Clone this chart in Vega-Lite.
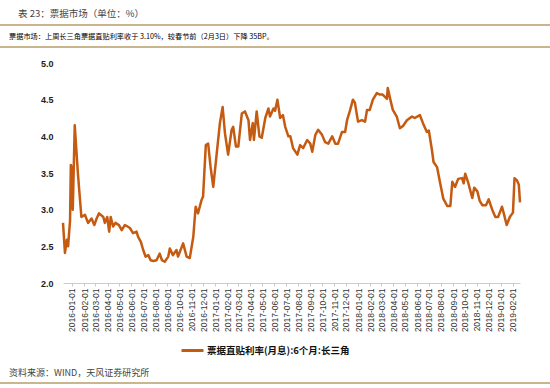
{
  "$schema": "https://vega.github.io/schema/vega-lite/v6.json",
  "width": 457,
  "height": 220,
  "autosize": {"type": "none"},
  "padding": {"left": 63, "top": 63, "right": 30, "bottom": 105},
  "background": "#ffffff",
  "config": {"view": {"stroke": null}, "font": "Liberation Sans"},
  "data": {"values": [
    {"date": "2015-12-09", "rate": 2.82},
    {"date": "2015-12-14", "rate": 2.41},
    {"date": "2015-12-19", "rate": 2.59},
    {"date": "2015-12-22", "rate": 2.50},
    {"date": "2015-12-27", "rate": 2.85},
    {"date": "2015-12-29", "rate": 3.61},
    {"date": "2016-01-01", "rate": 3.55},
    {"date": "2016-01-03", "rate": 3.00},
    {"date": "2016-01-08", "rate": 4.15},
    {"date": "2016-01-16", "rate": 3.50},
    {"date": "2016-01-25", "rate": 2.90},
    {"date": "2016-02-03", "rate": 2.93},
    {"date": "2016-02-11", "rate": 2.82},
    {"date": "2016-02-20", "rate": 2.88},
    {"date": "2016-02-27", "rate": 2.79},
    {"date": "2016-03-04", "rate": 2.88},
    {"date": "2016-03-10", "rate": 2.95},
    {"date": "2016-03-21", "rate": 2.90},
    {"date": "2016-03-25", "rate": 2.82},
    {"date": "2016-03-31", "rate": 2.90},
    {"date": "2016-04-05", "rate": 2.70},
    {"date": "2016-04-09", "rate": 2.90},
    {"date": "2016-04-15", "rate": 2.77},
    {"date": "2016-04-21", "rate": 2.82},
    {"date": "2016-04-30", "rate": 2.79},
    {"date": "2016-05-07", "rate": 2.72},
    {"date": "2016-05-15", "rate": 2.79},
    {"date": "2016-05-19", "rate": 2.78},
    {"date": "2016-05-28", "rate": 2.75},
    {"date": "2016-06-05", "rate": 2.68},
    {"date": "2016-06-14", "rate": 2.70},
    {"date": "2016-06-18", "rate": 2.63},
    {"date": "2016-06-25", "rate": 2.56},
    {"date": "2016-07-01", "rate": 2.45},
    {"date": "2016-07-07", "rate": 2.36},
    {"date": "2016-07-14", "rate": 2.38},
    {"date": "2016-07-20", "rate": 2.31},
    {"date": "2016-07-27", "rate": 2.30},
    {"date": "2016-08-04", "rate": 2.31},
    {"date": "2016-08-12", "rate": 2.40},
    {"date": "2016-08-18", "rate": 2.31},
    {"date": "2016-08-25", "rate": 2.29},
    {"date": "2016-09-03", "rate": 2.36},
    {"date": "2016-09-07", "rate": 2.47},
    {"date": "2016-09-15", "rate": 2.38},
    {"date": "2016-09-24", "rate": 2.45},
    {"date": "2016-09-28", "rate": 2.36},
    {"date": "2016-10-11", "rate": 2.54},
    {"date": "2016-10-20", "rate": 2.36},
    {"date": "2016-10-28", "rate": 2.34},
    {"date": "2016-11-06", "rate": 2.63},
    {"date": "2016-11-12", "rate": 3.04},
    {"date": "2016-11-18", "rate": 2.95},
    {"date": "2016-11-27", "rate": 3.13},
    {"date": "2016-12-01", "rate": 3.18},
    {"date": "2016-12-08", "rate": 3.88},
    {"date": "2016-12-14", "rate": 3.90},
    {"date": "2016-12-20", "rate": 3.59},
    {"date": "2016-12-27", "rate": 3.31},
    {"date": "2017-01-04", "rate": 3.72},
    {"date": "2017-01-13", "rate": 4.18},
    {"date": "2017-01-20", "rate": 4.40},
    {"date": "2017-01-26", "rate": 4.04},
    {"date": "2017-02-03", "rate": 3.75},
    {"date": "2017-02-12", "rate": 4.09},
    {"date": "2017-02-16", "rate": 4.13},
    {"date": "2017-02-23", "rate": 3.86},
    {"date": "2017-03-01", "rate": 3.86},
    {"date": "2017-03-10", "rate": 4.31},
    {"date": "2017-03-18", "rate": 4.34},
    {"date": "2017-03-27", "rate": 4.22},
    {"date": "2017-03-31", "rate": 3.95},
    {"date": "2017-04-07", "rate": 4.18},
    {"date": "2017-04-10", "rate": 3.95},
    {"date": "2017-04-17", "rate": 4.34},
    {"date": "2017-04-24", "rate": 4.00},
    {"date": "2017-04-30", "rate": 3.98},
    {"date": "2017-05-09", "rate": 4.25},
    {"date": "2017-05-17", "rate": 4.38},
    {"date": "2017-05-21", "rate": 4.27},
    {"date": "2017-05-30", "rate": 4.38},
    {"date": "2017-06-03", "rate": 4.35},
    {"date": "2017-06-09", "rate": 4.50},
    {"date": "2017-06-16", "rate": 4.25},
    {"date": "2017-06-23", "rate": 4.29},
    {"date": "2017-06-29", "rate": 4.13},
    {"date": "2017-07-07", "rate": 4.00},
    {"date": "2017-07-12", "rate": 4.00},
    {"date": "2017-07-19", "rate": 3.84},
    {"date": "2017-07-30", "rate": 3.75},
    {"date": "2017-08-06", "rate": 3.88},
    {"date": "2017-08-14", "rate": 3.84},
    {"date": "2017-08-24", "rate": 3.95},
    {"date": "2017-09-01", "rate": 3.90},
    {"date": "2017-09-06", "rate": 3.79},
    {"date": "2017-09-14", "rate": 4.02},
    {"date": "2017-09-21", "rate": 4.09},
    {"date": "2017-10-01", "rate": 4.02},
    {"date": "2017-10-09", "rate": 3.92},
    {"date": "2017-10-17", "rate": 3.90},
    {"date": "2017-10-27", "rate": 4.00},
    {"date": "2017-11-04", "rate": 3.90},
    {"date": "2017-11-11", "rate": 3.90},
    {"date": "2017-11-21", "rate": 4.06},
    {"date": "2017-11-29", "rate": 4.06},
    {"date": "2017-12-04", "rate": 4.22},
    {"date": "2017-12-12", "rate": 4.36},
    {"date": "2017-12-19", "rate": 4.50},
    {"date": "2017-12-24", "rate": 4.46},
    {"date": "2018-01-01", "rate": 4.20},
    {"date": "2018-01-11", "rate": 4.22},
    {"date": "2018-01-19", "rate": 4.20},
    {"date": "2018-01-24", "rate": 4.36},
    {"date": "2018-01-31", "rate": 4.36},
    {"date": "2018-02-08", "rate": 4.50},
    {"date": "2018-02-18", "rate": 4.59},
    {"date": "2018-02-26", "rate": 4.57},
    {"date": "2018-03-05", "rate": 4.57},
    {"date": "2018-03-16", "rate": 4.51},
    {"date": "2018-03-18", "rate": 4.66},
    {"date": "2018-03-26", "rate": 4.47},
    {"date": "2018-03-31", "rate": 4.36},
    {"date": "2018-04-10", "rate": 4.27},
    {"date": "2018-04-18", "rate": 4.11},
    {"date": "2018-04-26", "rate": 4.14},
    {"date": "2018-05-06", "rate": 4.22},
    {"date": "2018-05-19", "rate": 4.27},
    {"date": "2018-05-26", "rate": 4.25},
    {"date": "2018-06-08", "rate": 4.29},
    {"date": "2018-06-16", "rate": 4.18},
    {"date": "2018-06-26", "rate": 4.06},
    {"date": "2018-07-01", "rate": 4.08},
    {"date": "2018-07-09", "rate": 3.81},
    {"date": "2018-07-13", "rate": 3.65},
    {"date": "2018-07-22", "rate": 3.58},
    {"date": "2018-07-30", "rate": 3.36},
    {"date": "2018-08-07", "rate": 3.15},
    {"date": "2018-08-17", "rate": 3.05},
    {"date": "2018-08-25", "rate": 3.05},
    {"date": "2018-08-30", "rate": 3.38},
    {"date": "2018-09-06", "rate": 3.31},
    {"date": "2018-09-14", "rate": 3.42},
    {"date": "2018-09-24", "rate": 3.43},
    {"date": "2018-09-28", "rate": 3.36},
    {"date": "2018-10-02", "rate": 3.49},
    {"date": "2018-10-09", "rate": 3.38},
    {"date": "2018-10-20", "rate": 3.16},
    {"date": "2018-10-25", "rate": 3.30},
    {"date": "2018-11-02", "rate": 3.25},
    {"date": "2018-11-08", "rate": 3.12},
    {"date": "2018-11-15", "rate": 3.06},
    {"date": "2018-11-24", "rate": 3.06},
    {"date": "2018-12-01", "rate": 3.14},
    {"date": "2018-12-10", "rate": 3.00},
    {"date": "2018-12-18", "rate": 2.90},
    {"date": "2018-12-25", "rate": 2.90},
    {"date": "2019-01-04", "rate": 3.04},
    {"date": "2019-01-09", "rate": 2.94},
    {"date": "2019-01-16", "rate": 2.79},
    {"date": "2019-01-24", "rate": 2.90},
    {"date": "2019-02-01", "rate": 2.96},
    {"date": "2019-02-05", "rate": 3.43},
    {"date": "2019-02-11", "rate": 3.40},
    {"date": "2019-02-16", "rate": 3.34},
    {"date": "2019-02-19", "rate": 3.10}
  ]},
  "layer": [
    {
      "mark": {"type": "line", "strokeWidth": 2.5, "strokeJoin": "round"},
      "encoding": {
        "x": {
          "field": "date", "type": "temporal",
          "scale": {"type": "utc", "domain": [{"year": 2015, "month": 12, "date": 9, "utc": true}, {"year": 2019, "month": 2, "date": 19, "utc": true}]},
          "axis": {
            "title": null, "labelExpr": "utcFormat(datum.value, '%Y-%m-%d')",
            "tickCount": {"interval": "month", "step": 1},
            "labelAngle": -90, "labelFontSize": 8.5, "labelColor": "#333333",
            "labelPadding": 2, "tickSize": 3, "tickColor": "#cccccc",
            "domainColor": "#cccccc", "grid": false, "labelOverlap": false, "labelFlush": false
          }
        },
        "y": {
          "field": "rate", "type": "quantitative",
          "scale": {"domain": [2, 5], "nice": false, "zero": false},
          "axis": {
            "title": null, "values": [2, 2.5, 3, 3.5, 4, 4.5, 5], "format": ".1f",
            "domain": false, "ticks": false, "grid": false, "labelPadding": 10,
            "labelFontSize": 9, "labelFontWeight": "bold", "labelColor": "#222222"
          }
        },
        "color": {
          "datum": "票据直贴利率(月息):6个月:长三角",
          "scale": {"range": ["#C55A11"]},
          "legend": {
            "title": null, "orient": "none", "legendX": 117, "legendY": 275,
            "symbolType": "stroke", "symbolSize": 484, "symbolStrokeWidth": 3,
            "labelFont": "Noto Sans CJK SC", "labelFontWeight": "bold",
            "labelFontSize": 9.5, "labelColor": "#111111", "labelOffset": 2
          }
        }
      }
    },
    {
      "data": {"values": [
        {"ypos": 5.518, "xs": "2015-07-01", "xe": "2019-05-07"},
        {"ypos": 5.218, "xs": "2015-07-01", "xe": "2019-05-07"},
        {"ypos": 0.636, "xs": "2015-07-01", "xe": "2019-05-07"}
      ]},
      "mark": {"type": "rule", "color": "#C9B58E", "strokeWidth": 2},
      "encoding": {
        "x": {"field": "xs", "type": "temporal", "axis": {
            "title": null, "labelExpr": "utcFormat(datum.value, '%Y-%m-%d')",
            "tickCount": {"interval": "month", "step": 1},
            "labelAngle": -90, "labelFontSize": 8.5, "labelColor": "#333333",
            "labelPadding": 2, "tickSize": 3, "tickColor": "#cccccc",
            "domainColor": "#cccccc", "grid": false, "labelOverlap": false, "labelFlush": false
          }},
        "x2": {"field": "xe"},
        "y": {"field": "ypos", "type": "quantitative", "axis": {
            "title": null, "values": [2, 2.5, 3, 3.5, 4, 4.5, 5], "format": ".1f",
            "domain": false, "ticks": false, "grid": false, "labelPadding": 10,
            "labelFontSize": 9, "labelFontWeight": "bold", "labelColor": "#222222"
          }}
      }
    },
    {
      "data": {"values": [
        {"label": "表 23：票据市场（单位：%）", "xpos": "2015-08-16", "ypos": 5.668}
      ]},
      "mark": {"type": "text", "align": "left", "baseline": "middle", "font": "Noto Sans CJK SC", "fontSize": 9.5, "color": "#444444"},
      "encoding": {
        "x": {"field": "xpos", "type": "temporal", "axis": {
            "title": null, "labelExpr": "utcFormat(datum.value, '%Y-%m-%d')",
            "tickCount": {"interval": "month", "step": 1},
            "labelAngle": -90, "labelFontSize": 8.5, "labelColor": "#333333",
            "labelPadding": 2, "tickSize": 3, "tickColor": "#cccccc",
            "domainColor": "#cccccc", "grid": false, "labelOverlap": false, "labelFlush": false
          }},
        "y": {"field": "ypos", "type": "quantitative", "axis": {
            "title": null, "values": [2, 2.5, 3, 3.5, 4, 4.5, 5], "format": ".1f",
            "domain": false, "ticks": false, "grid": false, "labelPadding": 10,
            "labelFontSize": 9, "labelFontWeight": "bold", "labelColor": "#222222"
          }},
        "text": {"field": "label"}
      }
    },
    {
      "data": {"values": [
        {"label": "票据市场：上周长三角票据直贴利率收于 3.10%，较春节前（2月3日）下降 35BP。", "xpos": "2015-07-24", "ypos": 5.355}
      ]},
      "mark": {"type": "text", "align": "left", "baseline": "middle", "font": "Noto Sans CJK SC", "fontSize": 7.2, "color": "#000000"},
      "encoding": {
        "x": {"field": "xpos", "type": "temporal", "axis": {
            "title": null, "labelExpr": "utcFormat(datum.value, '%Y-%m-%d')",
            "tickCount": {"interval": "month", "step": 1},
            "labelAngle": -90, "labelFontSize": 8.5, "labelColor": "#333333",
            "labelPadding": 2, "tickSize": 3, "tickColor": "#cccccc",
            "domainColor": "#cccccc", "grid": false, "labelOverlap": false, "labelFlush": false
          }},
        "y": {"field": "ypos", "type": "quantitative", "axis": {
            "title": null, "values": [2, 2.5, 3, 3.5, 4, 4.5, 5], "format": ".1f",
            "domain": false, "ticks": false, "grid": false, "labelPadding": 10,
            "labelFontSize": 9, "labelFontWeight": "bold", "labelColor": "#222222"
          }},
        "text": {"field": "label"}
      }
    },
    {
      "data": {"values": [
        {"label": "资料来源：WIND，天风证券研究所", "xpos": "2015-07-24", "ypos": 0.773}
      ]},
      "mark": {"type": "text", "align": "left", "baseline": "middle", "font": "Noto Sans CJK SC", "fontSize": 9, "color": "#444444"},
      "encoding": {
        "x": {"field": "xpos", "type": "temporal", "axis": {
            "title": null, "labelExpr": "utcFormat(datum.value, '%Y-%m-%d')",
            "tickCount": {"interval": "month", "step": 1},
            "labelAngle": -90, "labelFontSize": 8.5, "labelColor": "#333333",
            "labelPadding": 2, "tickSize": 3, "tickColor": "#cccccc",
            "domainColor": "#cccccc", "grid": false, "labelOverlap": false, "labelFlush": false
          }},
        "y": {"field": "ypos", "type": "quantitative", "axis": {
            "title": null, "values": [2, 2.5, 3, 3.5, 4, 4.5, 5], "format": ".1f",
            "domain": false, "ticks": false, "grid": false, "labelPadding": 10,
            "labelFontSize": 9, "labelFontWeight": "bold", "labelColor": "#222222"
          }},
        "text": {"field": "label"}
      }
    }
  ],
  "resolve": {"scale": {"color": "independent"}}
}
